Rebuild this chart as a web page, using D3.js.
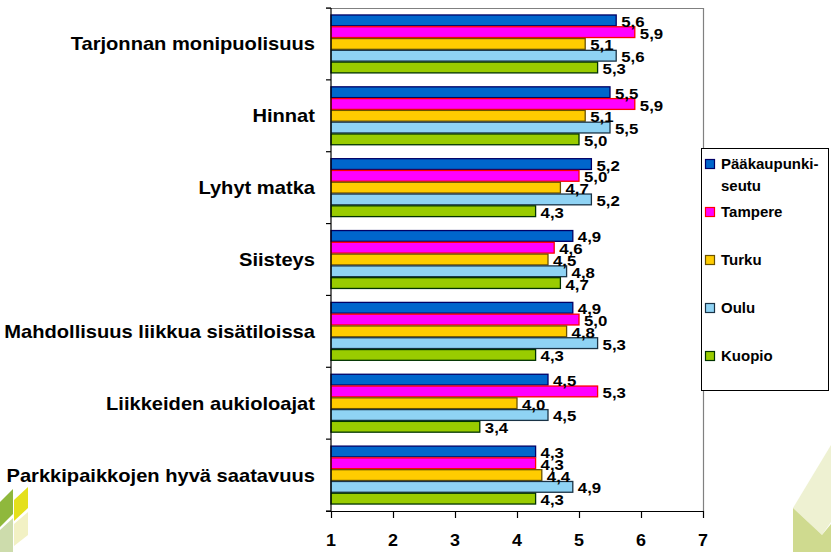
<!DOCTYPE html>
<html>
<head>
<meta charset="utf-8">
<script src="https://cdn.jsdelivr.net/npm/d3@7"></script>
<style>
  body { margin: 0; background: #fff; }
  svg { display: block; }
  text { font-family: Arial, "Liberation Sans", sans-serif; font-weight: bold; fill: #000; }
</style>
</head>
<body>
<div id="chart"></div>
<script>
// data
const categories = [
  "Tarjonnan monipuolisuus",
  "Hinnat",
  "Lyhyt matka",
  "Siisteys",
  "Mahdollisuus liikkua sisätiloissa",
  "Liikkeiden aukioloajat",
  "Parkkipaikkojen hyvä saatavuus"
];
const seriesNames = ["Pääkaupunkiseutu", "Tampere", "Turku", "Oulu", "Kuopio"];
const legendLabels = [["Pääkaupunki-", "seutu"], ["Tampere"], ["Turku"], ["Oulu"], ["Kuopio"]];
const paakaupunkiseutu = [5.6, 5.5, 5.2, 4.9, 4.9, 4.5, 4.3];
const tampere = [5.9, 5.9, 5.0, 4.6, 5.0, 5.3, 4.3];
const turku = [5.1, 5.1, 4.7, 4.5, 4.8, 4.0, 4.4];
const oulu = [5.6, 5.5, 5.2, 4.8, 5.3, 4.5, 4.9];
const kuopio = [5.3, 5.0, 4.3, 4.7, 4.3, 3.4, 4.3];
const xTicks = [1, 2, 3, 4, 5, 6, 7];

const fills = ["#0066cc", "#ff00ff", "#ffcc00", "#8fd3f4", "#99cc00"];
const strokes = ["#000066", "#ff0000", "#6b5200", "#1a3346", "#003300"];

const width = 831, height = 552;
const SX = 1.12; // text in the picture is a bit wider than tall

const svg = d3.select("#chart").append("svg")
  .attr("width", width)
  .attr("height", height);

// decoration in the corners
const deco = svg.append("g");
[
  {pts: [[0, 502], [13, 489], [13, 514], [0, 527]], c: "#8fb83c"},
  {pts: [[14, 500], [28, 487], [28, 508], [14, 521]], c: "#e4e01c"},
  {pts: [[0, 530], [13, 518], [13, 552], [0, 552]], c: "#cddcac"},
  {pts: [[14, 524], [28, 512], [28, 535], [14, 546]], c: "#f2f1c4"},
  {pts: [[793, 508], [831, 445], [831, 522], [822, 535]], c: "#eef1d2"},
  {pts: [[793, 508], [822, 535], [831, 524], [831, 552], [793, 552]], c: "#cfda8f"}
].forEach(d => {
  deco.append("polygon")
    .attr("points", d.pts.map(p => p.join(",")).join(" "))
    .attr("fill", d.c);
});

const x = d3.scaleLinear().domain([1, 7]).range([331, 703]);
const y = d3.scaleBand().domain(categories).range([8, 511])
  .paddingInner(0.18).paddingOuter(0.09);
const ySub = d3.scaleBand().domain(seriesNames).range([0, y.bandwidth()]);

const step = y.step();

// frame: top + right
svg.append("path")
  .attr("d", `M${x(1) - 5},8.5H${x(7) + 0.5}V511`)
  .attr("fill", "none")
  .attr("stroke", "#808080")
  .attr("stroke-width", 1.2);

const rows = categories.map((c, i) => ({
  cat: c,
  vals: [paakaupunkiseutu[i], tampere[i], turku[i], oulu[i], kuopio[i]]
}));

const groups = svg.selectAll("g.group")
  .data(rows)
  .join("g")
  .attr("class", "group")
  .attr("transform", d => `translate(0,${y(d.cat)})`);

groups.selectAll("rect")
  .data(d => d.vals.map((v, j) => ({v, s: seriesNames[j], j})))
  .join("rect")
  .attr("x", x(1))
  .attr("y", d => ySub(d.s) + 0.5)
  .attr("width", d => x(d.v) - x(1))
  .attr("height", ySub.bandwidth() - 1)
  .attr("fill", d => fills[d.j])
  .attr("stroke", d => strokes[d.j])
  .attr("stroke-width", 1.3);

groups.selectAll("text.val")
  .data(d => d.vals.map((v, j) => ({v, s: seriesNames[j], j})))
  .join("text")
  .attr("class", "val")
  .attr("transform", d => `translate(${x(d.v) + 5},${ySub(d.s) + ySub.bandwidth() / 2 + 6.5}) scale(${SX},1)`)
  .style("font-size", "15px")
  .text(d => d3.format(".1f")(d.v).replace(".", ","));

// category labels
svg.selectAll("text.cat")
  .data(categories)
  .join("text")
  .attr("class", "cat")
  .attr("text-anchor", "end")
  .attr("transform", d => `translate(315,${y(d) + y.bandwidth() / 2 + 6.5}) scale(1.15,1)`)
  .style("font-size", "17.5px")
  .text(d => d);

// left axis with ticks between categories
const leftAxis = svg.append("g");
leftAxis.append("line")
  .attr("x1", x(1)).attr("x2", x(1))
  .attr("y1", 8).attr("y2", 511)
  .attr("stroke", "#000").attr("stroke-width", 1.2);
leftAxis.selectAll("line.sep")
  .data(d3.range(categories.length + 1))
  .join("line")
  .attr("class", "sep")
  .attr("x1", x(1) - 5).attr("x2", x(1))
  .attr("y1", i => 8 + i * step).attr("y2", i => 8 + i * step)
  .attr("stroke", "#000").attr("stroke-width", 1.2);

// bottom axis
const bottomAxis = svg.append("g")
  .attr("transform", "translate(0,511)")
  .call(d3.axisBottom(x).tickValues(xTicks).tickSize(7).tickFormat(""));
bottomAxis.select(".domain").attr("d", `M${x(1) - 5},0.5H${x(7)}`)
  .attr("stroke", "#000").attr("stroke-width", 1.2);
bottomAxis.selectAll(".tick line").attr("stroke", "#000").attr("stroke-width", 1.2);

svg.selectAll("text.tick")
  .data(xTicks)
  .join("text")
  .attr("class", "tick")
  .attr("text-anchor", "middle")
  .attr("transform", d => `translate(${x(d)},546) scale(${SX},1)`)
  .style("font-size", "16px")
  .text(d => d);

// legend
const legend = svg.append("g");
legend.append("rect")
  .attr("x", 701.5).attr("y", 148.5)
  .attr("width", 127).attr("height", 242)
  .attr("fill", "#fff")
  .attr("stroke", "#000").attr("stroke-width", 1);

const legendY = d3.scalePoint().domain(seriesNames).range([164, 356]);

const items = legend.selectAll("g.item")
  .data(seriesNames)
  .join("g")
  .attr("class", "item")
  .attr("transform", d => `translate(0,${legendY(d)})`);

items.append("rect")
  .attr("x", 705.5).attr("y", -4.5)
  .attr("width", 9).attr("height", 9)
  .attr("fill", (d, i) => fills[i])
  .attr("stroke", (d, i) => strokes[i])
  .attr("stroke-width", 1.2);

items.each(function(d, i) {
  const g = d3.select(this);
  legendLabels[i].forEach((line, k) => {
    g.append("text")
      .attr("transform", `translate(721,${5 + k * 21.5})`)
      .style("font-size", "15px")
      .text(line);
  });
});
</script>
</body>
</html>
